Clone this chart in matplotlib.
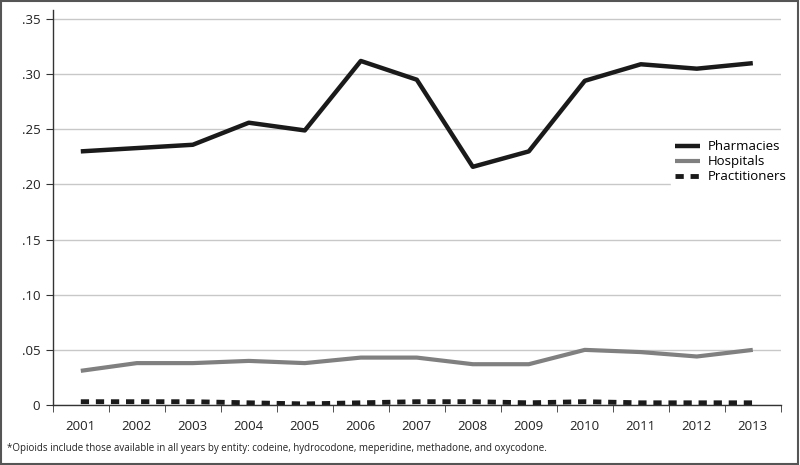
import matplotlib.pyplot as plt
import numpy as np
from matplotlib.patches import Rectangle

plt.rcParams['font.family'] = ['Open Sans', 'DejaVu Sans']

years = [2001, 2002, 2003, 2004, 2005, 2006, 2007, 2008, 2009, 2010, 2011, 2012, 2013]
pharmacies = [0.230, 0.233, 0.236, 0.256, 0.249, 0.312, 0.295, 0.216, 0.230, 0.294, 0.309, 0.305, 0.310]
hospitals = [0.031, 0.038, 0.038, 0.040, 0.038, 0.043, 0.043, 0.037, 0.037, 0.050, 0.048, 0.044, 0.050]
practitioners = [0.003, 0.003, 0.003, 0.002, 0.001, 0.002, 0.003, 0.003, 0.002, 0.003, 0.002, 0.002, 0.002]
y_ticks = [0, 0.05, 0.10, 0.15, 0.20, 0.25, 0.30, 0.35]
y_labels = ['0', '.05', '.10', '.15', '.20', '.25', '.30', '.35']

fig = plt.figure(figsize=(8, 4.65), dpi=100)
ax = fig.add_axes([0.066, 0.129, 0.910, 0.849])

x = np.arange(len(years))
ax.plot(x, pharmacies, color='#1a1a1a', lw=3.2, label='Pharmacies', solid_capstyle='butt')
ax.plot(x, hospitals, color='#808080', lw=3.0, label='Hospitals', solid_capstyle='butt')
ax.plot(x, practitioners, color='#1a1a1a', lw=3.5, ls=(0, (1.7, 1.4)), label='Practitioners')

ax.set_xlim(-0.5, len(years) - 0.5)
ax.set_ylim(0, 0.358)
ax.set_yticks(y_ticks)
ax.set_yticklabels(y_labels)
ax.set_xticks(x)
ax.set_xticklabels([str(y) for y in years])
ax.set_xticks(np.arange(-0.5, len(years)), minor=True)
ax.tick_params(axis='x', which='major', length=0, pad=11)
ax.tick_params(axis='x', which='minor', length=5, color='#333333')
ax.tick_params(axis='y', length=5, color='#333333', pad=4)
ax.tick_params(labelsize=9.5, labelcolor='#222222')
ax.grid(axis='y', color='#c8c8c8', lw=1)
ax.set_axisbelow(True)
for s in ['top', 'right']:
    ax.spines[s].set_visible(False)
for s in ['left', 'bottom']:
    ax.spines[s].set_color('#333333')
    ax.spines[s].set_linewidth(1)

leg = ax.legend(loc='upper left', bbox_to_anchor=(0.84, 0.697), frameon=True,
                fontsize=9.5, handlelength=1.9, handletextpad=0.6, labelspacing=0.15, borderpad=0.3)
leg.get_frame().set_edgecolor('white')
leg.get_frame().set_facecolor('white')
leg.get_frame().set_alpha(1)

fig.text(0.009, 0.035, '*Opioids include those available in all years by entity: codeine, hydrocodone, meperidine, methadone, and oxycodone.',
         fontsize=7, color='#222222', va='center')
fig.patches.append(Rectangle((0.001, 0.002), 0.997, 0.995, transform=fig.transFigure,
                             fill=False, edgecolor='#555555', lw=1.5))

fig.savefig('out.png', dpi=100)
